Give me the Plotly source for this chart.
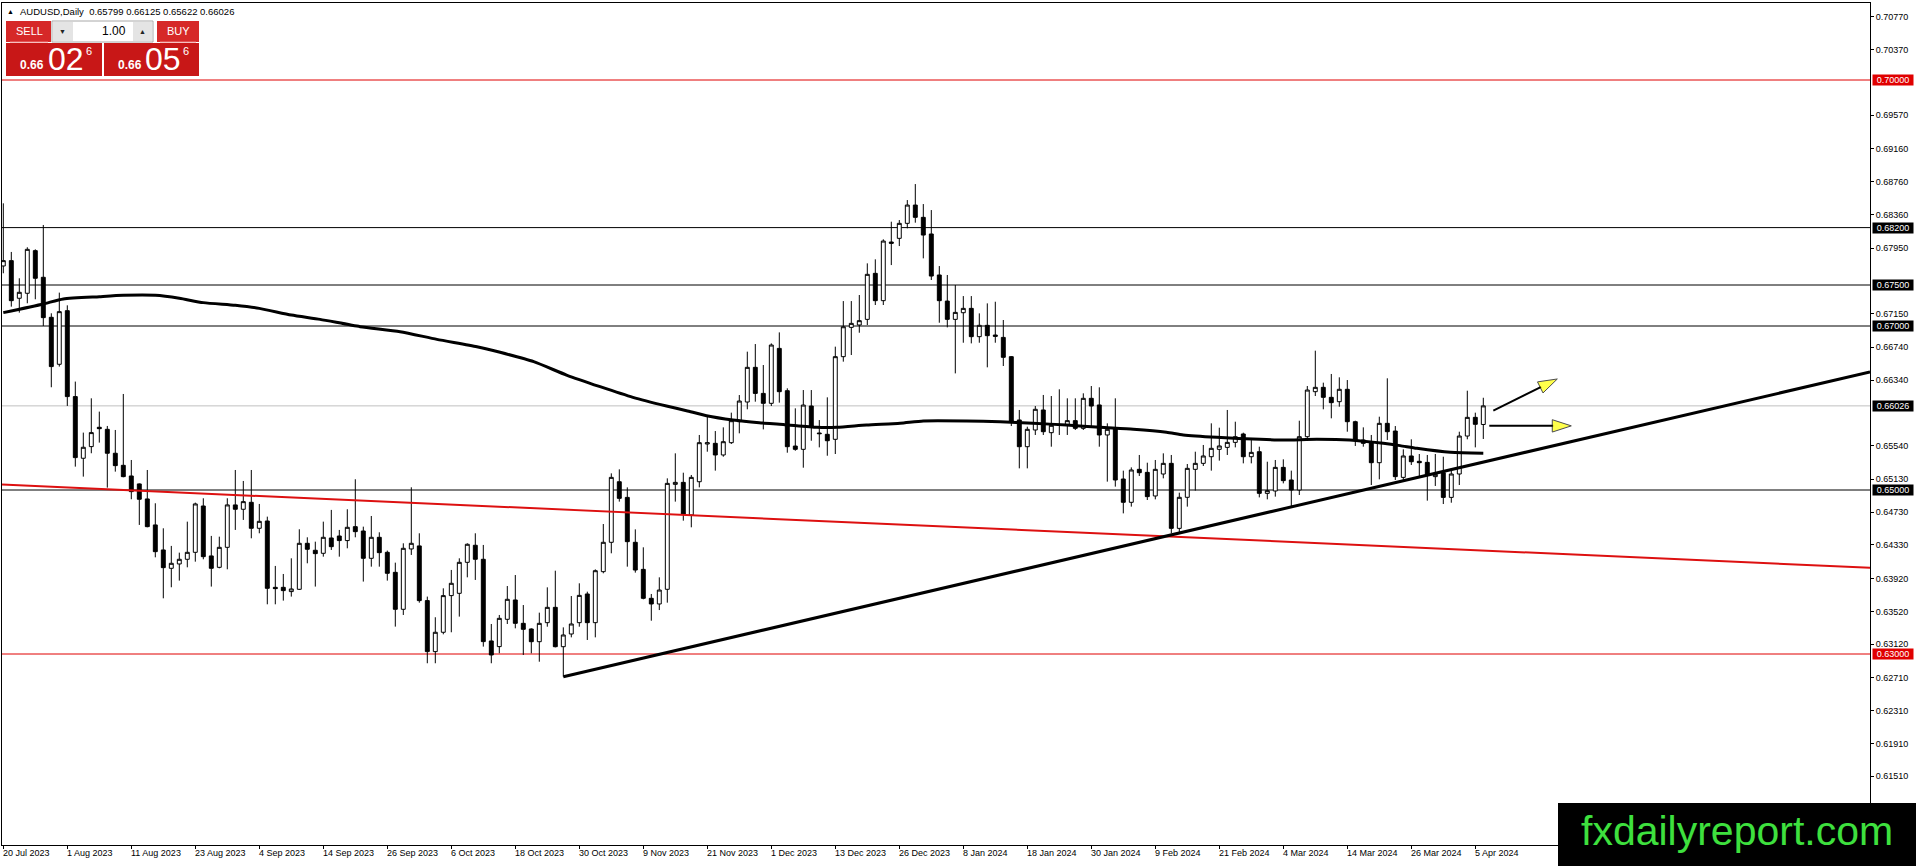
import plotly.graph_objects as go

# ---- values (bar 0 = 20 Jul 2023) ----
opens = [
    0.67732, 0.67797, 0.67338, 0.67399, 0.67919, 0.67594, 0.67106, 0.66533, 0.67187, 0.66139,
    0.65387, 0.65529, 0.65765, 0.65740, 0.65448, 0.65301, 0.65171, 0.65074, 0.64891, 0.64574,
    0.64269, 0.64045, 0.64098, 0.64155, 0.64240, 0.64805, 0.64196, 0.64057, 0.64301, 0.64818,
    0.64765, 0.64850, 0.64533, 0.64622, 0.63813, 0.63813, 0.63761, 0.63789, 0.64350, 0.64265,
    0.64228, 0.64415, 0.64439, 0.64383, 0.64553, 0.64500, 0.64167, 0.64423, 0.64240, 0.63996,
    0.63545, 0.64281, 0.64318, 0.63651, 0.63029, 0.63265, 0.63712, 0.63740, 0.64118, 0.64326,
    0.64155, 0.63159, 0.63090, 0.63423, 0.63659, 0.63374, 0.63305, 0.63150, 0.63382, 0.63569,
    0.63089, 0.63244, 0.63382, 0.63732, 0.63382, 0.64004, 0.64362, 0.65101, 0.64910, 0.64362,
    0.64032, 0.63679, 0.63610, 0.63789, 0.65069, 0.65093, 0.64695, 0.65101, 0.65561, 0.65569,
    0.65427, 0.65577, 0.65833, 0.66073, 0.66496, 0.66178, 0.66057, 0.66727, 0.66211, 0.65536,
    0.65496, 0.66024, 0.65695, 0.65679, 0.65618, 0.66626, 0.66983, 0.67012, 0.67081, 0.67642,
    0.67309, 0.68024, 0.68069, 0.68252, 0.68475, 0.68325, 0.68122, 0.67622, 0.67304, 0.67081,
    0.67162, 0.67215, 0.66870, 0.67008, 0.66890, 0.66861, 0.66626, 0.65854, 0.65528, 0.65732,
    0.65976, 0.65699, 0.65789, 0.65793, 0.65846, 0.65752, 0.66118, 0.66037, 0.65671, 0.65752,
    0.65134, 0.64850, 0.65252, 0.65215, 0.64927, 0.65195, 0.65325, 0.64532, 0.64911, 0.65252,
    0.65325, 0.65406, 0.65496, 0.65520, 0.65581, 0.65683, 0.65406, 0.65467, 0.64959, 0.64988,
    0.65276, 0.65122, 0.65000, 0.65650, 0.66199, 0.66252, 0.66130, 0.66077, 0.66228, 0.65833,
    0.65610, 0.65589, 0.65333, 0.65813, 0.65719, 0.65154, 0.65415, 0.65350, 0.65337, 0.65163,
    0.65211, 0.64910, 0.65195, 0.65658, 0.65886, 0.65799,
]
highs = [
    0.68496, 0.67903, 0.67582, 0.67960, 0.67935, 0.68232, 0.67155, 0.67407, 0.67252, 0.66322,
    0.65700, 0.66118, 0.65956, 0.65781, 0.65732, 0.66171, 0.65366, 0.65080, 0.65244, 0.64838,
    0.64533, 0.64318, 0.64236, 0.64614, 0.64846, 0.64899, 0.64440, 0.64431, 0.64899, 0.65244,
    0.65110, 0.65244, 0.64830, 0.64675, 0.64074, 0.63976, 0.64167, 0.64521, 0.64423, 0.64370,
    0.64614, 0.64757, 0.64513, 0.64765, 0.65131, 0.64553, 0.64683, 0.64484, 0.64261, 0.64114,
    0.64350, 0.65033, 0.64472, 0.63700, 0.63448, 0.63801, 0.64025, 0.64167, 0.64350, 0.64472,
    0.64330, 0.63366, 0.63476, 0.63829, 0.63963, 0.63597, 0.63313, 0.63504, 0.63813, 0.64016,
    0.63325, 0.63707, 0.63862, 0.63760, 0.64032, 0.64585, 0.65203, 0.65252, 0.65032, 0.64520,
    0.64301, 0.63732, 0.63935, 0.65142, 0.65447, 0.65211, 0.65183, 0.65671, 0.65914, 0.65719,
    0.65764, 0.65943, 0.66158, 0.66687, 0.66780, 0.66524, 0.66788, 0.66922, 0.66240, 0.65996,
    0.66219, 0.66219, 0.65853, 0.66130, 0.66748, 0.67304, 0.67304, 0.67378, 0.67764, 0.67813,
    0.68057, 0.68272, 0.68292, 0.68536, 0.68731, 0.68487, 0.68414, 0.67731, 0.67622, 0.67500,
    0.67365, 0.67365, 0.67154, 0.67276, 0.67296, 0.67073, 0.66634, 0.65976, 0.65772, 0.66024,
    0.66159, 0.66146, 0.66228, 0.66118, 0.66118, 0.66179, 0.66268, 0.66252, 0.65813, 0.66118,
    0.65236, 0.65276, 0.65427, 0.65333, 0.65366, 0.65447, 0.65427, 0.64967, 0.65317, 0.65467,
    0.65549, 0.65813, 0.65760, 0.65976, 0.65833, 0.65699, 0.65610, 0.65528, 0.65345, 0.65366,
    0.65374, 0.65236, 0.65845, 0.66268, 0.66699, 0.66309, 0.66415, 0.66374, 0.66341, 0.65845,
    0.65764, 0.65671, 0.65894, 0.66362, 0.65780, 0.65496, 0.65618, 0.65439, 0.65427, 0.65439,
    0.65406, 0.65264, 0.65711, 0.66211, 0.65943, 0.66125,
]
lows = [
    0.67643, 0.67236, 0.67163, 0.67277, 0.67326, 0.67000, 0.66253, 0.66505, 0.66025, 0.65285,
    0.65163, 0.65448, 0.65578, 0.65029, 0.65224, 0.65155, 0.64887, 0.64574, 0.64545, 0.64179,
    0.63679, 0.63814, 0.63895, 0.64057, 0.64126, 0.64155, 0.63822, 0.64045, 0.64033, 0.64513,
    0.64635, 0.64411, 0.64472, 0.63606, 0.63606, 0.63651, 0.63700, 0.63781, 0.64106, 0.63822,
    0.64187, 0.64269, 0.64187, 0.64289, 0.64423, 0.63883, 0.64065, 0.64065, 0.63895, 0.63334,
    0.63476, 0.64208, 0.63626, 0.62887, 0.62887, 0.63240, 0.63265, 0.63456, 0.63935, 0.63903,
    0.63090, 0.62887, 0.63009, 0.63366, 0.63313, 0.62988, 0.63008, 0.62906, 0.63333, 0.63081,
    0.62723, 0.63203, 0.63333, 0.63171, 0.63203, 0.63984, 0.64228, 0.64858, 0.64065, 0.63992,
    0.63667, 0.63406, 0.63536, 0.63626, 0.64858, 0.64626, 0.64545, 0.65032, 0.65467, 0.65236,
    0.65406, 0.65561, 0.65691, 0.65984, 0.66077, 0.65739, 0.66024, 0.66065, 0.65455, 0.65479,
    0.65272, 0.65601, 0.65520, 0.65418, 0.65439, 0.66565, 0.66646, 0.66918, 0.67012, 0.67256,
    0.67256, 0.67743, 0.67975, 0.68191, 0.68260, 0.67825, 0.67561, 0.67040, 0.66983, 0.66422,
    0.66796, 0.66788, 0.66796, 0.66496, 0.66796, 0.66512, 0.65780, 0.65264, 0.65264, 0.65671,
    0.65671, 0.65528, 0.65671, 0.65671, 0.65732, 0.65732, 0.65772, 0.65528, 0.65102, 0.65041,
    0.64715, 0.64797, 0.65171, 0.64878, 0.64886, 0.65142, 0.64472, 0.64472, 0.64797, 0.64992,
    0.65293, 0.65236, 0.65358, 0.65427, 0.65520, 0.65325, 0.65325, 0.64910, 0.64886, 0.64919,
    0.65081, 0.64797, 0.64939, 0.65618, 0.66146, 0.65984, 0.65874, 0.66016, 0.65711, 0.65537,
    0.65528, 0.65061, 0.65130, 0.65610, 0.65122, 0.65114, 0.65305, 0.65163, 0.64870, 0.65049,
    0.64829, 0.64845, 0.65061, 0.65618, 0.65520, 0.65622,
]
closes = [
    0.67797, 0.67309, 0.67411, 0.67935, 0.67582, 0.67102, 0.66505, 0.67175, 0.66139, 0.65395,
    0.65521, 0.65700, 0.65748, 0.65448, 0.65297, 0.65163, 0.64980, 0.64887, 0.64553, 0.64248,
    0.64053, 0.64106, 0.64155, 0.64240, 0.64830, 0.64187, 0.64045, 0.64301, 0.64818, 0.64765,
    0.64858, 0.64533, 0.64618, 0.63801, 0.63797, 0.63773, 0.63793, 0.64350, 0.64277, 0.64224,
    0.64423, 0.64309, 0.64383, 0.64545, 0.64492, 0.64167, 0.64423, 0.64236, 0.63984, 0.63545,
    0.64289, 0.64350, 0.63651, 0.63029, 0.63265, 0.63712, 0.63862, 0.64118, 0.64338, 0.64155,
    0.63151, 0.62988, 0.63435, 0.63667, 0.63374, 0.63301, 0.63150, 0.63374, 0.63569, 0.63089,
    0.63232, 0.63366, 0.63715, 0.63382, 0.64016, 0.64362, 0.65154, 0.64898, 0.64370, 0.64024,
    0.63679, 0.63610, 0.63780, 0.65081, 0.65093, 0.64707, 0.65154, 0.65577, 0.65577, 0.65427,
    0.65589, 0.65845, 0.66085, 0.66496, 0.66178, 0.66057, 0.66768, 0.66199, 0.65528, 0.65496,
    0.66036, 0.65772, 0.65687, 0.65601, 0.66626, 0.66991, 0.67032, 0.67065, 0.67630, 0.67309,
    0.68036, 0.68008, 0.68252, 0.68475, 0.68325, 0.68109, 0.67609, 0.67309, 0.67081, 0.67166,
    0.67215, 0.66870, 0.67008, 0.66882, 0.66874, 0.66618, 0.65833, 0.65528, 0.65740, 0.65984,
    0.65711, 0.65789, 0.65797, 0.65846, 0.65752, 0.66118, 0.66024, 0.65671, 0.65740, 0.65122,
    0.64850, 0.65244, 0.65211, 0.64919, 0.65252, 0.65325, 0.64532, 0.64911, 0.65264, 0.65325,
    0.65415, 0.65508, 0.65537, 0.65581, 0.65650, 0.65406, 0.65459, 0.64959, 0.64992, 0.65276,
    0.65114, 0.65000, 0.65650, 0.66219, 0.66252, 0.66130, 0.66065, 0.66228, 0.65833, 0.65610,
    0.65569, 0.65333, 0.65813, 0.65711, 0.65163, 0.65415, 0.65345, 0.65333, 0.65183, 0.65191,
    0.64910, 0.65195, 0.65658, 0.65886, 0.65801, 0.66026,
]

# moving average line, read at a set of bar positions
ma_bars = [0, 5, 7.5, 12, 15, 19, 22, 25, 29, 32, 36, 39.6, 44.6, 49.6, 54.2, 59.2,
           62.1, 66.3, 70.4, 74.6, 78.7, 82.9, 85.4, 87.9, 91.2, 94.5, 97.5, 101.7,
           104.2, 107.9, 112.1, 115, 120.4, 124.6, 128.7, 132.9, 137.1, 141.25, 145.4,
           147.5, 151.7, 157.1, 160, 164.2, 168.3, 172.5, 174.6, 176.7, 180.9, 185]
ma_vals = [0.67163, 0.67269, 0.67330, 0.67358, 0.67374, 0.67374, 0.67338, 0.67285,
           0.67252, 0.67215, 0.67134, 0.67081, 0.66992, 0.66931, 0.66837, 0.66748,
           0.66679, 0.66565, 0.66402, 0.66260, 0.66130, 0.66024, 0.65967, 0.65906,
           0.65854, 0.65821, 0.65800, 0.65764, 0.65764, 0.65792, 0.65813, 0.65841,
           0.65841, 0.65833, 0.65813, 0.65793, 0.65764, 0.65740, 0.65703, 0.65671,
           0.65642, 0.65618, 0.65610, 0.65618, 0.65610, 0.65569, 0.65541, 0.65508,
           0.65459, 0.65447]

# drawn objects
support_x = [70, 233.34]
support_y = [0.62723, 0.66440]
red_trend_x = [-0.16, 233.34]
red_trend_y = [0.65066, 0.64052]
arrow_up_x = [186.25, 194.25]
arrow_up_y = [0.65967, 0.66354]
arrow_flat_x = [185.75, 196.0]
arrow_flat_y = [0.65782, 0.65782]

levels_black = [0.682, 0.675, 0.670, 0.650]
levels_red = [0.700, 0.630]
last_price = 0.66026
bid, ask = 0.66026, 0.66056

# price scale labels (the ones hidden under the boxed levels are left out)
ytick_vals = [0.70770, 0.70370, 0.69570, 0.69160, 0.68760, 0.68360, 0.67950,
              0.67150, 0.66740, 0.66340, 0.65540, 0.65130, 0.64730,
              0.64330, 0.63920, 0.63520, 0.63120, 0.62710, 0.62310, 0.61910, 0.61510]
date_labels = ["20 Jul 2023", "1 Aug 2023", "11 Aug 2023", "23 Aug 2023", "4 Sep 2023",
               "14 Sep 2023", "26 Sep 2023", "6 Oct 2023", "18 Oct 2023", "30 Oct 2023",
               "9 Nov 2023", "21 Nov 2023", "1 Dec 2023", "13 Dec 2023", "26 Dec 2023",
               "8 Jan 2024", "18 Jan 2024", "30 Jan 2024", "9 Feb 2024", "21 Feb 2024",
               "4 Mar 2024", "14 Mar 2024", "26 Mar 2024", "5 Apr 2024"]
date_bars = [0, 8, 16, 24, 32, 40, 48, 56, 64, 72, 80, 88, 96, 104, 112, 120,
             128, 136, 144, 152, 160, 168, 176, 184]

# ---- page geometry (pixels) ----
W, H = 1916, 866
ML, MR, MT, MB = 2, 46, 3, 21
PW, PH = W - ML - MR, H - MT - MB
FONT = "Liberation Sans, Arial, sans-serif"
RED = "#e00000"


def px(x):
    return (x - ML) / PW


def py(y):
    return 1 - (y - MT) / PH


bars = list(range(len(opens)))

fig = go.Figure()
fig.add_trace(go.Candlestick(
    x=bars, open=opens, high=highs, low=lows, close=closes,
    increasing=dict(fillcolor="white", line=dict(color="black", width=1)),
    decreasing=dict(fillcolor="black", line=dict(color="black", width=1)),
    whiskerwidth=0, hoverinfo="skip", showlegend=False))

fig.add_trace(go.Scatter(x=ma_bars, y=ma_vals, mode="lines",
                         line=dict(color="black", width=3, shape="spline", smoothing=0.6),
                         hoverinfo="skip", showlegend=False))
fig.add_trace(go.Scatter(x=red_trend_x, y=red_trend_y, mode="lines",
                         line=dict(color="#dd1010", width=2), hoverinfo="skip", showlegend=False))
fig.add_trace(go.Scatter(x=support_x, y=support_y, mode="lines",
                         line=dict(color="black", width=3), hoverinfo="skip", showlegend=False))
for ax_, ay_ in [(arrow_up_x, arrow_up_y), (arrow_flat_x, arrow_flat_y)]:
    fig.add_trace(go.Scatter(
        x=ax_, y=ay_, mode="lines+markers", line=dict(color="black", width=2),
        marker=dict(symbol="arrow", angleref="previous", size=[0, 20], color="#ffff00",
                    line=dict(color="black", width=[0, 1])),
        hoverinfo="skip", showlegend=False, cliponaxis=False))

shapes = []
for lv in levels_black:
    shapes.append(dict(type="line", xref="paper", x0=0, x1=1, yref="y", y0=lv, y1=lv,
                       line=dict(color="black", width=1), layer="below"))
for lv in levels_red:
    shapes.append(dict(type="line", xref="paper", x0=0, x1=1, yref="y", y0=lv, y1=lv,
                       line=dict(color=RED, width=1), layer="below"))
shapes.append(dict(type="line", xref="paper", x0=0, x1=1, yref="y", y0=last_price, y1=last_price,
                   line=dict(color="#c0c0c0", width=1), layer="below"))


def box(x0, y0, x1, y1, fill, line=None):
    shapes.append(dict(type="rect", xref="paper", yref="paper",
                       x0=px(x0), x1=px(x1), y0=py(y1), y1=py(y0), fillcolor=fill,
                       line=dict(width=1 if line else 0, color=line or fill), layer="above"))


# one-click trading panel
box(6, 21, 51, 42, "#d62828")
box(157, 21, 199, 42, "#d62828")
box(6, 43, 102, 76, "#c81717")
box(104, 43, 199, 76, "#c81717")
box(52, 21, 153, 42, "white", "#a8a8a8")
box(53, 22, 73, 41, "#e4e4e4")
box(133, 22, 152, 41, "#e4e4e4")
for xa, xb in [(10, 48), (160, 196)]:
    shapes.append(dict(type="line", xref="paper", yref="paper", x0=px(xa), x1=px(xb),
                       y0=py(42), y1=py(42), line=dict(color="#ee8080", width=1), layer="above"))
# watermark background
box(1558, 803, 1920, 870, "black")

ann = []


def txt(x, y, s, size=9, color="black", xanchor="center", bold=False):
    ann.append(dict(xref="paper", yref="paper", x=px(x), y=py(y), text=f"<b>{s}</b>" if bold else s,
                    showarrow=False, xanchor=xanchor, yanchor="middle",
                    font=dict(family=FONT, size=size, color=color)))


txt(10, 11, "▲", size=7)
txt(18, 11, f"AUDUSD,Daily  {opens[-1]:.5f} {highs[-1]:.5f} {lows[-1]:.5f} {closes[-1]:.5f}",
    size=9.5, xanchor="left")
txt(29, 31, "SELL", size=11, color="white")
txt(178, 31, "BUY", size=11, color="white")
txt(128, 31, "1.00", size=12, xanchor="right")
txt(63, 31, "▼", size=7, color="#222222")
txt(142, 31, "▲", size=7, color="#222222")
for price, xs in [(bid, (32, 65.5, 89)), (ask, (130, 162.5, 186))]:
    s = f"{price:.5f}"
    txt(xs[0], 65, s[:4], size=12, color="white", bold=True)
    txt(xs[1], 59, s[4:6], size=32, color="white")
    txt(xs[2], 51, s[6], size=11, color="white")
txt(1737, 831, "fxdailyreport.com", size=41, color="#3ee03e")

# boxed price labels on the price scale
for lv, col in [(v, RED) for v in levels_red] + [(v, "black") for v in levels_black] + \
        [(last_price, "black")]:
    ann.append(dict(xref="paper", yref="y", x=px(1872), y=lv, xanchor="left", yanchor="middle",
                    text=f"{lv:.5f}", showarrow=False, bgcolor=col, width=40, height=10,
                    borderpad=0, font=dict(family=FONT, size=9, color="white")))

# date labels, left-aligned on their bar like the terminal does
for b, lab in zip(date_bars, date_labels):
    ann.append(dict(xref="x", yref="paper", x=b, y=0, xanchor="left", yanchor="top",
                    yshift=-1, xshift=-2, text=lab, showarrow=False,
                    font=dict(family=FONT, size=9, color="black")))

fig.update_layout(
    width=W, height=H, margin=dict(l=ML, r=MR, t=MT, b=MB),
    paper_bgcolor="white", plot_bgcolor="white", showlegend=False,
    shapes=shapes, annotations=ann, hovermode=False,
    font=dict(family=FONT, size=9, color="black"),
    xaxis=dict(range=[-0.1625, 233.3375], rangeslider=dict(visible=False),
               showgrid=False, zeroline=False, showline=True, mirror=True,
               linecolor="black", linewidth=1, tickvals=date_bars, ticks="outside",
               ticklen=3, tickcolor="black", showticklabels=False, fixedrange=True),
    yaxis=dict(range=[0.606707, 0.709390], side="right", showgrid=False, zeroline=False,
               showline=True, mirror=True, linecolor="black", linewidth=1,
               tickvals=ytick_vals, ticktext=[f"{v:.5f}" for v in ytick_vals],
               ticks="outside", ticklen=3, tickcolor="black",
               tickfont=dict(family=FONT, size=9, color="black"), fixedrange=True),
)

# page has a default 8px body margin; drop it so the chart sits at the window corner
fig.write_html("out.html", config={"displayModeBar": False},
               post_script="document.body.style.margin='0';document.body.style.overflow='hidden';")
